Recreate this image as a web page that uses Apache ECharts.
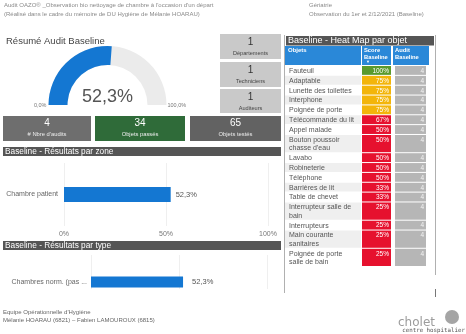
<!DOCTYPE html>
<html><head><meta charset="utf-8">
<script src="https://cdn.jsdelivr.net/npm/echarts@6/dist/echarts.min.js"></script>
<style>html,body{margin:0;padding:0;background:#fff}#c{width:466px;height:334px}</style>
</head><body><div id="c"></div>
<script>
// ---------- data ----------
const headerLeft = ["Audit OAZO® _Observation bio nettoyage de chambre à l'occasion d'un départ", "(Réalisé dans le cadre du mémoire de DU Hygiène de Mélanie HOARAU)"];
const headerRight = ["Gériatrie", "Observation du 1er et 2/12/2021 (Baseline)"];
const summaryTitle = "Résumé Audit Baseline";
const gaugeValue = 52.3;
const gaugeTicks = ["0,0%", "100,0%"];
const kpiValues = [4, 34, 65];
const kpiLabels = ["# Nbre d'audits", "Objets passés", "Objets testés"];
const sideValues = [1, 1, 1];
const sideLabels = ["Départements", "Techniciens", "Auditeurs"];
const zoneTitle = "Baseline - Résultats par zone";
const zoneCategories = ["Chambre patient"];
const zoneValues = [52.3];
const axisTicks = [0, 50, 100];
const typeTitle = "Baseline - Résultats par type";
const typeCategories = ["Chambres norm. (pas ..."];
const typeValues = [52.3];
const heatTitle = "Baseline - Heat Map par objet";
const heatHeaders = ["Objets", "Score\nBaseline", "Audit\nBaseline"];
const heatObjects = ["Fauteuil", "Adaptable", "Lunette des toilettes", "Interphone", "Poignée de porte", "Télécommande du lit", "Appel malade", "Bouton poussoir\nchasse d'eau", "Lavabo", "Robineterie", "Téléphone", "Barrières de lit", "Table de chevet", "Interrupteur salle de\nbain", "Interrupteurs", "Main courante\nsanitaires", "Poignée de porte\nsalle de bain"];
const heatScores = [100, 75, 75, 75, 75, 67, 50, 50, 50, 50, 50, 33, 33, 25, 25, 25, 25];
const heatAudits = [4, 4, 4, 4, 4, 4, 4, 4, 4, 4, 4, 4, 4, 4, 4, 4, 4];
const footerLines = ["Equipe Opérationnelle d'Hygiène", "Mélanie HOARAU (6821) – Fabien LAMOUROUX (6815)"];
const logoLines = ["cholet", "centre hospitalier"];

// ---------- styles / layout ----------
const FONT = "'Liberation Sans', Arial, sans-serif";
const BLUE = "#1477d2";
const fmtPct = v => Number(v).toFixed(1).replace('.', ',') + '%';
const scoreColor = v => v >= 100 ? '#5a9a2d' : (v >= 75 ? '#f3b50a' : '#e6112e');

// table row spans in "line units"
const rowSpans = [];
let acc = 0;
heatObjects.forEach(n => {
  const h = n.split('\n').length === 1 ? 1 : 1.85;
  rowSpans.push([acc, acc + h]);
  acc += h;
});
const totalUnits = acc;
const tableData = heatObjects.map((n, i) => [rowSpans[i][0], rowSpans[i][1], i]);

const G = { cx: 107.5, cy: 105, r: 59, w: 19 };

function txt(x, y, s, size, color, align, extra) {
  return { type: 'text', x: x, y: y, z: 50,
    style: { text: s, fill: color, font: (extra && extra.weight ? extra.weight + ' ' : '') + size + 'px ' + ((extra && extra.family) || FONT),
      align: align || 'left', verticalAlign: 'middle', lineHeight: extra && extra.lh ? extra.lh : undefined } };
}
function rect(x, y, w, h, fill, z) {
  return { type: 'rect', z: z || 10, shape: { x: x, y: y, width: w, height: h }, style: { fill: fill } };
}
function vline(x, y1, y2, c) {
  return { type: 'line', z: 10, shape: { x1: x, y1: y1, x2: x, y2: y2 }, style: { stroke: c, lineWidth: 1 } };
}

const graphics = [];
headerLeft.forEach((s, i) => graphics.push(txt(4, 5 + i * 9, s, 6, '#8a8a8a')));
headerRight.forEach((s, i) => graphics.push(txt(309, 5 + i * 9, s, 6, '#8a8a8a')));
graphics.push(txt(6, 41.5, summaryTitle, 9.5, '#444'));
graphics.push(txt(G.cx - G.r - 2, G.cy, gaugeTicks[0], 5.5, '#777', 'right'));
graphics.push(txt(G.cx + G.r + 1, G.cy, gaugeTicks[1], 5.5, '#777', 'left'));

const sideY = [34, 62, 89], sideH = [25, 25, 24];
sideValues.forEach((v, i) => {
  graphics.push(rect(220, sideY[i], 61, sideH[i], '#c9c9c9'));
  graphics.push(txt(250.5, sideY[i] + 8.5, String(v), 10, '#333', 'center'));
  graphics.push(txt(250.5, sideY[i] + 19, sideLabels[i], 5.6, '#444', 'center'));
});
const kpiX = [3, 95, 190], kpiW = [88, 90, 91], kpiC = ['#6e6e6e', '#2f6b39', '#626262'];
kpiValues.forEach((v, i) => {
  graphics.push(rect(kpiX[i], 116, kpiW[i], 25, kpiC[i]));
  graphics.push(txt(kpiX[i] + kpiW[i] / 2, 123.5, String(v), 10, '#fff', 'center'));
  graphics.push(txt(kpiX[i] + kpiW[i] / 2, 134.5, kpiLabels[i], 5.8, '#eee', 'center'));
});
graphics.push(rect(3, 147, 278, 9, '#555'));
graphics.push(txt(5, 151.5, zoneTitle, 8.3, '#fff'));
graphics.push(rect(3, 241, 278, 9, '#555'));
graphics.push(txt(5, 245.5, typeTitle, 8.3, '#fff'));
graphics.push(rect(84, 289, 196, 21, '#fff', 40));
footerLines.forEach((s, i) => graphics.push(txt(3, 312 + i * 8, s, 6, '#666')));

graphics.push(vline(284.5, 35, 293, '#b0b0b0'));
graphics.push(vline(435.5, 35, 275, '#b0b0b0'));
graphics.push(vline(435.5, 289, 297, '#777'));
graphics.push(rect(286, 36, 148, 9.5, '#555'));
graphics.push(txt(288, 41, heatTitle, 9, '#fff'));
graphics.push(rect(285, 46, 76, 19, '#2a88d8'));
graphics.push(rect(362, 46, 29, 19, '#2a88d8'));
graphics.push(rect(393, 46, 36, 19, '#2a88d8'));
graphics.push(txt(288, 50.5, heatHeaders[0], 6, '#fff', 'left', { weight: 'bold' }));
graphics.push(txt(364, 53.5, heatHeaders[1], 5.8, '#fff', 'left', { weight: 'bold', lh: 7 }));
graphics.push(txt(366, 62, '▼', 4, '#fff', 'left'));
graphics.push(txt(395, 53.5, heatHeaders[2], 5.8, '#fff', 'left', { weight: 'bold', lh: 7 }));

graphics.push({ type: 'circle', z: 10, shape: { cx: 452, cy: 317, r: 7 }, style: { fill: '#a5a5a5' } });
graphics.push(txt(398, 323, logoLines[0], 12, '#9c9c9c', 'left', { family: "'DejaVu Sans', sans-serif" }));
graphics.push(txt(465, 330.5, logoLines[1], 5.8, '#555', 'right', { family: "'DejaVu Sans Mono', monospace" }));

function cellRect(api) {
  const p0 = api.coord([0, api.value(0)]);
  const p1 = api.coord([1, api.value(1)]);
  return { x: p0[0], y: p0[1], w: p1[0] - p0[0], h: p1[1] - p0[1] - 1 };
}

const option = {
  animation: false,
  backgroundColor: '#fff',
  graphic: { elements: graphics },
  grid: [
    { left: 64, top: 163, width: 204, height: 63 },
    { left: 91, top: 255, width: 176, height: 54 },
    { left: 285, top: 66, width: 76, height: 201 },
    { left: 362, top: 66, width: 29, height: 201 },
    { left: 395, top: 66, width: 31, height: 201 }
  ],
  xAxis: [
    { type: 'value', gridIndex: 0, min: axisTicks[0], max: axisTicks[2], interval: axisTicks[1] - axisTicks[0],
      axisLine: { show: false }, axisTick: { show: false },
      axisLabel: { formatter: '{value}%', fontSize: 7, color: '#777', margin: 5, fontFamily: FONT },
      splitLine: { lineStyle: { color: '#efefef' } } },
    { type: 'value', gridIndex: 1, min: axisTicks[0], max: axisTicks[2], interval: axisTicks[1] - axisTicks[0],
      axisLine: { show: false }, axisTick: { show: false }, axisLabel: { show: false },
      splitLine: { lineStyle: { color: '#efefef' } } },
    { type: 'value', gridIndex: 2, min: 0, max: 1, show: false },
    { type: 'value', gridIndex: 3, min: 0, max: 1, show: false },
    { type: 'value', gridIndex: 4, min: 0, max: 1, show: false }
  ],
  yAxis: [
    { type: 'category', gridIndex: 0, data: zoneCategories, axisLine: { show: false }, axisTick: { show: false },
      axisLabel: { fontSize: 7, color: '#666', margin: 6, fontFamily: FONT } },
    { type: 'category', gridIndex: 1, data: typeCategories, axisLine: { show: false }, axisTick: { show: false },
      axisLabel: { fontSize: 7, color: '#666', margin: 4, fontFamily: FONT } },
    { type: 'value', gridIndex: 2, min: 0, max: totalUnits, inverse: true, show: false },
    { type: 'value', gridIndex: 3, min: 0, max: totalUnits, inverse: true, show: false },
    { type: 'value', gridIndex: 4, min: 0, max: totalUnits, inverse: true, show: false }
  ],
  series: [
    { type: 'gauge', center: [G.cx, G.cy], radius: G.r, startAngle: 180, endAngle: 0, min: 0, max: 100,
      progress: { show: true, width: G.w, itemStyle: { color: BLUE } },
      axisLine: { lineStyle: { width: G.w, color: [[1, '#ebebeb']] } },
      pointer: { show: false }, axisTick: { show: false }, splitLine: { show: false }, axisLabel: { show: false },
      anchor: { show: false }, title: { show: false },
      detail: { offsetCenter: [0, -8], formatter: v => fmtPct(v), fontSize: 18, color: '#555', fontWeight: 'normal', fontFamily: FONT },
      data: [{ value: gaugeValue }] },
    { type: 'bar', xAxisIndex: 0, yAxisIndex: 0, data: zoneValues, barWidth: 15, itemStyle: { color: BLUE },
      label: { show: true, position: 'right', distance: 5, formatter: p => fmtPct(p.value), fontSize: 7.5, color: '#555', fontFamily: FONT } },
    { type: 'bar', xAxisIndex: 1, yAxisIndex: 1, data: typeValues, barWidth: 11, itemStyle: { color: BLUE },
      label: { show: true, position: 'right', distance: 9, formatter: p => fmtPct(p.value), fontSize: 7.5, color: '#555', fontFamily: FONT } },
    { type: 'custom', xAxisIndex: 2, yAxisIndex: 2, data: tableData, encode: { y: [0, 1] },
      renderItem: (params, api) => {
        const c = cellRect(api); const i = api.value(2);
        return { type: 'group', children: [
          { type: 'rect', shape: { x: c.x, y: c.y, width: c.w, height: c.h }, style: { fill: i % 2 ? '#efefef' : '#fff' } },
          { type: 'text', x: c.x + 4, y: c.y + c.h / 2 + 0.5, style: { text: heatObjects[i], fill: '#555', font: '7px ' + FONT, verticalAlign: 'middle', lineHeight: 8.3 } }
        ] };
      } },
    { type: 'custom', xAxisIndex: 3, yAxisIndex: 3, data: tableData, encode: { y: [0, 1] },
      renderItem: (params, api) => {
        const c = cellRect(api); const i = api.value(2);
        return { type: 'group', children: [
          { type: 'rect', shape: { x: c.x, y: c.y, width: c.w, height: c.h }, style: { fill: scoreColor(heatScores[i]) } },
          { type: 'text', x: c.x + c.w - 2, y: c.y + 5, style: { text: heatScores[i] + '%', fill: '#fff', font: '6.5px ' + FONT, align: 'right', verticalAlign: 'middle' } }
        ] };
      } },
    { type: 'custom', xAxisIndex: 4, yAxisIndex: 4, data: tableData, encode: { y: [0, 1] },
      renderItem: (params, api) => {
        const c = cellRect(api); const i = api.value(2);
        return { type: 'group', children: [
          { type: 'rect', shape: { x: c.x, y: c.y, width: c.w, height: c.h }, style: { fill: '#b6b6b6' } },
          { type: 'text', x: c.x + c.w - 2, y: c.y + 5, style: { text: String(heatAudits[i]), fill: '#f4f4f4', font: '6.5px ' + FONT, align: 'right', verticalAlign: 'middle' } }
        ] };
      } }
  ]
};
echarts.init(document.getElementById('c'), null, { renderer: 'canvas' }).setOption(option);
</script>
</body></html>
